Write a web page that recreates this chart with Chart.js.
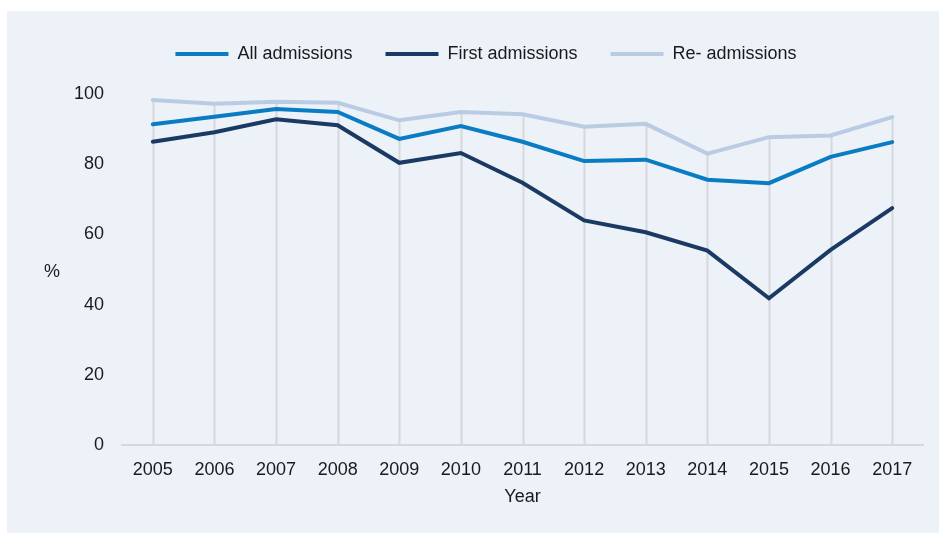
<!DOCTYPE html>
<html>
<head>
<meta charset="utf-8">
<script src="https://cdn.jsdelivr.net/npm/chart.js@4"></script>
<style>
  html, body { margin: 0; padding: 0; background: #ffffff; }
  #panel { position: absolute; left: 7px; top: 11px; width: 932px; height: 522px; background: #edf1f8; }
  #myChart { display: block; }
</style>
</head>
<body>
<div id="panel"><canvas id="myChart" width="932" height="522"></canvas></div>
<script>
// datos
var anios = ['2005', '2006', '2007', '2008', '2009', '2010', '2011', '2012', '2013', '2014', '2015', '2016', '2017'];
var todas = [91.4, 93.5, 95.7, 94.9, 87.2, 90.9, 86.4, 80.9, 81.3, 75.6, 74.6, 82.1, 86.3];
var primeras = [86.4, 89.1, 92.8, 91.1, 80.4, 83.2, 74.7, 64.0, 60.6, 55.4, 41.8, 55.6, 67.5];
var reingresos = [98.3, 97.2, 97.8, 97.5, 92.5, 94.9, 94.2, 90.7, 91.5, 83.0, 87.7, 88.2, 93.4];
var ticksY = [0, 20, 40, 60, 80, 100];

var fuente = "'Liberation Sans', Arial, sans-serif";
Chart.defaults.font.family = fuente;
Chart.defaults.font.size = 18;
Chart.defaults.color = '#1a1a1a';

// lineas verticales desde el punto mas alto hasta el eje
var lineasCaida = {
    id: 'lineasCaida',
    beforeLayout: function(chart) {
        // mas espacio entre leyenda y grafico
        var ley = chart.legend;
        if (ley && !ley._ajustado) {
            var fitOrig = ley.fit;
            ley.fit = function() {
                fitOrig.apply(this, arguments);
                this.height += 21;
            };
            ley._ajustado = true;
        }
    },
    beforeDatasetsDraw: function(chart) {
        var ctx = chart.ctx;
        var x = chart.scales.x, y = chart.scales.y;
        ctx.save();
        ctx.strokeStyle = '#d6d8dc';
        ctx.lineWidth = 2;
        for (var i = 0; i < anios.length; i++) {
            var max = Math.max(todas[i], primeras[i], reingresos[i]);
            var px = Math.round(x.getPixelForValue(i)) + 0.5;
            ctx.beginPath();
            ctx.moveTo(px, y.getPixelForValue(max));
            ctx.lineTo(px, y.getPixelForValue(0));
            ctx.stroke();
        }
        ctx.restore();
    },
    afterDraw: function(chart) {
        // titulo del eje y sin rotar
        var ctx = chart.ctx;
        var a = chart.chartArea;
        ctx.save();
        ctx.font = '18px ' + fuente;
        ctx.fillStyle = '#1a1a1a';
        ctx.textAlign = 'center';
        ctx.textBaseline = 'middle';
        ctx.fillText('%', 45, (a.top + a.bottom) / 2 + 3);
        ctx.restore();
    }
};

var ctx = document.getElementById('myChart').getContext('2d');
var myChart = new Chart(ctx, {
    type: 'line',
    data: {
        labels: anios,
        datasets: [{
            label: 'All admissions',
            data: todas,
            borderColor: '#0a7cc4',
            backgroundColor: '#0a7cc4',
            borderWidth: 4
        }, {
            label: 'First admissions',
            data: primeras,
            borderColor: '#1a3a64',
            backgroundColor: '#1a3a64',
            borderWidth: 4
        }, {
            label: 'Re- admissions',
            data: reingresos,
            borderColor: '#b9cce4',
            backgroundColor: '#b9cce4',
            borderWidth: 4
        }]
    },
    options: {
        responsive: false,
        animation: false,
        elements: {
            point: { radius: 0 },
            line: { tension: 0, borderCapStyle: 'round' }
        },
        layout: { padding: { left: 42, right: 16, top: 1, bottom: 0 } },
        plugins: {
            legend: {
                position: 'top',
                labels: {
                    usePointStyle: true,
                    pointStyle: 'line',
                    pointStyleWidth: 53,
                    boxHeight: 18,
                    padding: 33,
                    color: '#1a1a1a',
                    font: { size: 18 }
                }
            },
            tooltip: { enabled: false }
        },
        scales: {
            x: {
                offset: true,
                grid: { display: false, drawTicks: false },
                border: { display: true, color: '#d6d8dc', width: 2 },
                ticks: { padding: 14, color: '#1a1a1a', maxRotation: 0 },
                title: { display: true, text: 'Year', color: '#1a1a1a', font: { size: 18 }, padding: { top: 25, bottom: 25 } },
                afterFit: function(scale) { scale.height = 88; }
            },
            y: {
                min: 0,
                max: 100,
                grid: { display: false, drawTicks: false },
                border: { display: false },
                afterBuildTicks: function(scale) {
                    scale.ticks = ticksY.map(function(v) { return { value: v }; });
                },
                ticks: { padding: 18, color: '#1a1a1a' },
                afterFit: function(scale) { scale.width = 73; }
            }
        }
    },
    plugins: [lineasCaida]
});
</script>
</body>
</html>
